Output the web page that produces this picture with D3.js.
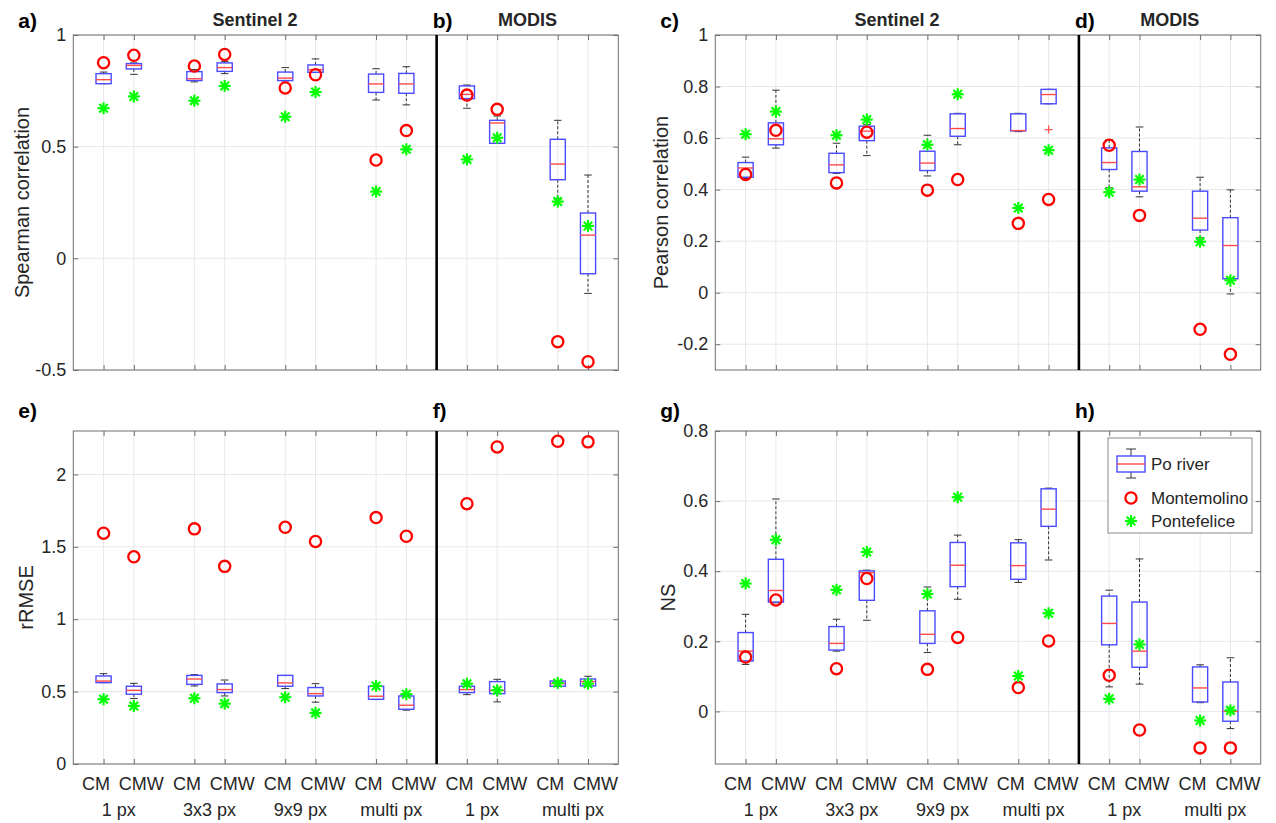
<!DOCTYPE html>
<html>
<head>
<meta charset="utf-8">
<script src="https://cdn.jsdelivr.net/npm/d3@7"></script>
<style>
  html, body { margin: 0; padding: 0; background: #fff; }
  svg { display: block; font-family: "Liberation Sans", Arial, Helvetica, sans-serif; }
</style>
</head>
<body>
<svg id="chart" width="1276" height="823"></svg>
<script>
// ---------------- DATA ----------------
const positions = [1, 2, 4, 5, 7, 8, 10, 11, 13, 14, 16, 17];
const methodLabels = ["CM", "CMW", "CM", "CMW", "CM", "CMW", "CM", "CMW", "CM", "CMW", "CM", "CMW"];
const groupLabels = ["1 px", "3x3 px", "9x9 px", "multi px", "1 px", "multi px"];
const groupCenters = [1.5, 4.5, 7.5, 10.5, 13.5, 16.5];
const sensorTitles = ["Sentinel 2", "MODIS"];
const separatorPos = 12;

// boxes: [lower whisker, q1, median, q3, upper whisker]
const spearmanBoxes = [
  [0.782, 0.782, 0.800, 0.827, 0.834],
  [0.824, 0.848, 0.864, 0.872, 0.875],
  [0.790, 0.796, 0.804, 0.836, 0.845],
  [0.827, 0.837, 0.854, 0.875, 0.882],
  [0.794, 0.796, 0.807, 0.834, 0.854],
  [0.832, 0.833, 0.845, 0.866, 0.893],
  [0.709, 0.743, 0.781, 0.825, 0.849],
  [0.687, 0.739, 0.781, 0.828, 0.858],
  [0.672, 0.715, 0.734, 0.772, 0.776],
  [0.515, 0.515, 0.606, 0.618, 0.637],
  [0.269, 0.352, 0.422, 0.533, 0.618],
  [-0.157, -0.069, 0.104, 0.203, 0.373]
];
const spearmanMontemolino = [0.876, 0.909, 0.861, 0.913, 0.763, 0.822, 0.440, 0.572, 0.731, 0.667, -0.373, -0.463];
const spearmanPontefelice = [0.672, 0.725, 0.706, 0.772, 0.634, 0.745, 0.299, 0.488, 0.443, 0.540, 0.254, 0.145];
const spearmanOutliers = [[], [], [], [], [], [], [], [], [], [], [], []];
const spearmanTicks = [-0.5, 0, 0.5, 1];

const pearsonBoxes = [
  [0.443, 0.448, 0.484, 0.505, 0.526],
  [0.561, 0.574, 0.597, 0.659, 0.786],
  [0.463, 0.466, 0.496, 0.541, 0.580],
  [0.532, 0.590, 0.627, 0.646, 0.652],
  [0.453, 0.474, 0.503, 0.549, 0.611],
  [0.574, 0.607, 0.637, 0.694, 0.696],
  [0.625, 0.628, 0.629, 0.694, 0.696],
  [0.733, 0.733, 0.769, 0.789, 0.789],
  [0.407, 0.478, 0.505, 0.562, 0.594],
  [0.372, 0.394, 0.411, 0.548, 0.643],
  [0.213, 0.243, 0.289, 0.394, 0.448],
  [-0.005, 0.054, 0.183, 0.291, 0.399]
];
const pearsonMontemolino = [0.459, 0.630, 0.426, 0.623, 0.398, 0.439, 0.269, 0.362, 0.572, 0.300, -0.142, -0.239];
const pearsonPontefelice = [0.615, 0.703, 0.611, 0.672, 0.574, 0.770, 0.329, 0.553, 0.390, 0.439, 0.198, 0.048];
const pearsonOutliers = [[], [], [], [], [], [], [], [0.633], [], [], [], []];
const pearsonTicks = [-0.2, 0, 0.2, 0.4, 0.6, 0.8, 1];

const rrmseBoxes = [
  [0.562, 0.562, 0.573, 0.608, 0.624],
  [0.452, 0.482, 0.509, 0.537, 0.557],
  [0.539, 0.550, 0.587, 0.612, 0.617],
  [0.470, 0.493, 0.514, 0.553, 0.580],
  [0.521, 0.537, 0.560, 0.612, 0.612],
  [0.427, 0.470, 0.486, 0.528, 0.555],
  [0.445, 0.447, 0.468, 0.537, 0.540],
  [0.372, 0.378, 0.406, 0.470, 0.475],
  [0.479, 0.493, 0.514, 0.537, 0.555],
  [0.429, 0.486, 0.509, 0.569, 0.585],
  [0.535, 0.537, 0.555, 0.573, 0.575],
  [0.537, 0.539, 0.569, 0.587, 0.606]
];
const rrmseMontemolino = [1.594, 1.431, 1.624, 1.365, 1.635, 1.537, 1.702, 1.573, 1.798, 2.190, 2.229, 2.225];
const rrmsePontefelice = [0.447, 0.401, 0.454, 0.417, 0.461, 0.353, 0.539, 0.482, 0.555, 0.509, 0.560, 0.555];
const rrmseOutliers = [[], [], [], [], [], [], [], [], [], [], [], []];
const rrmseTicks = [0, 0.5, 1, 1.5, 2];

const nsBoxes = [
  [0.134, 0.144, 0.172, 0.225, 0.277],
  [0.310, 0.312, 0.345, 0.434, 0.606],
  [0.172, 0.175, 0.194, 0.242, 0.263],
  [0.260, 0.317, 0.396, 0.401, 0.403],
  [0.168, 0.194, 0.220, 0.287, 0.355],
  [0.320, 0.356, 0.417, 0.482, 0.503],
  [0.368, 0.377, 0.416, 0.481, 0.490],
  [0.432, 0.528, 0.577, 0.635, 0.637],
  [0.070, 0.190, 0.251, 0.329, 0.346],
  [0.078, 0.126, 0.172, 0.312, 0.435],
  [0.025, 0.027, 0.067, 0.127, 0.133],
  [-0.049, -0.028, 0.000, 0.084, 0.153]
];
const nsMontemolino = [0.155, 0.318, 0.122, 0.379, 0.120, 0.211, 0.068, 0.201, 0.103, -0.053, -0.104, -0.104];
const nsPontefelice = [0.365, 0.490, 0.347, 0.455, 0.335, 0.611, 0.101, 0.280, 0.036, 0.191, -0.026, 0.003];
const nsOutliers = [[], [], [], [], [], [], [], [], [], [], [], []];
const nsTicks = [0, 0.2, 0.4, 0.6, 0.8];

const legendLabels = ["Po river", "Montemolino", "Pontefelice"];

// ---------------- LAYOUT ----------------
const panels = [
  { boxes: spearmanBoxes, mont: spearmanMontemolino, pont: spearmanPontefelice, outl: spearmanOutliers,
    ticks: spearmanTicks, domain: [-0.5, 1], ylabel: "Spearman correlation", letters: ["a)", "b)"],
    left: 73.3, right: 618.3, top: 35, bottom: 370, xlabels: false, titles: true, ylabX: 29, letterY: 28 },
  { boxes: pearsonBoxes, mont: pearsonMontemolino, pont: pearsonPontefelice, outl: pearsonOutliers,
    ticks: pearsonTicks, domain: [-0.3, 1], ylabel: "Pearson correlation", letters: ["c)", "d)"],
    left: 715.3, right: 1260.7, top: 35, bottom: 370, xlabels: false, titles: true, ylabX: 668, letterY: 28 },
  { boxes: rrmseBoxes, mont: rrmseMontemolino, pont: rrmsePontefelice, outl: rrmseOutliers,
    ticks: rrmseTicks, domain: [0, 2.3], ylabel: "rRMSE", letters: ["e)", "f)"],
    left: 73.3, right: 618.3, top: 431, bottom: 764, xlabels: true, titles: false, ylabX: 33, letterY: 418 },
  { boxes: nsBoxes, mont: nsMontemolino, pont: nsPontefelice, outl: nsOutliers,
    ticks: nsTicks, domain: [-0.15, 0.8], ylabel: "NS", letters: ["g)", "h)"],
    left: 715.3, right: 1260.7, top: 431, bottom: 764, xlabels: true, titles: false, ylabX: 675, letterY: 418, legend: true }
];

const svg = d3.select("#chart");
const TXT = "#262626";
const AX = "#6e6e6e";
const GRID = "#e8e8e8";
const fmt = d => String(+d.toFixed(2));

function star(g, cx, cy, r) {
  const s = g.append("g").attr("transform", `translate(${cx},${cy})`)
    .attr("stroke", "#00ff00").attr("stroke-width", 2.2).attr("stroke-linecap", "butt");
  [0, 45, 90, 135].forEach(a => {
    const rad = a * Math.PI / 180;
    s.append("line")
      .attr("x1", -r * Math.cos(rad)).attr("y1", -r * Math.sin(rad))
      .attr("x2", r * Math.cos(rad)).attr("y2", r * Math.sin(rad));
  });
}

panels.forEach(p => {
  const x = d3.scaleLinear().domain([0, 18]).range([p.left, p.right]);
  const y = d3.scaleLinear().domain(p.domain).range([p.bottom, p.top]);
  const g = svg.append("g");

  // grid
  g.append("g").selectAll("line").data(p.ticks).join("line")
    .attr("x1", p.left).attr("x2", p.right)
    .attr("y1", d => y(d)).attr("y2", d => y(d))
    .attr("stroke", GRID).attr("stroke-width", 1);
  g.append("g").selectAll("line").data(positions).join("line")
    .attr("x1", d => x(d)).attr("x2", d => x(d))
    .attr("y1", p.top).attr("y2", p.bottom)
    .attr("stroke", GRID).attr("stroke-width", 1);

  // axes (inward ticks, MATLAB style)
  const yl = g.append("g").attr("transform", `translate(${p.left},0)`)
    .call(d3.axisLeft(y).tickValues(p.ticks).tickFormat(fmt).tickSize(-5).tickSizeOuter(0).tickPadding(7));
  const yr = g.append("g").attr("transform", `translate(${p.right},0)`)
    .call(d3.axisRight(y).tickValues(p.ticks).tickFormat("").tickSize(-5).tickSizeOuter(0));
  const xb = g.append("g").attr("transform", `translate(0,${p.bottom})`)
    .call(d3.axisBottom(x).tickValues(positions)
      .tickFormat((d, i) => p.xlabels ? methodLabels[i] : "")
      .tickSize(-5).tickSizeOuter(0).tickPadding(13));
  const xt = g.append("g").attr("transform", `translate(0,${p.top})`)
    .call(d3.axisTop(x).tickValues(positions).tickFormat("").tickSize(-5).tickSizeOuter(0));
  [yl, yr, xb, xt].forEach(a => {
    a.select(".domain").remove();
    a.selectAll(".tick line").attr("stroke", AX);
    a.selectAll(".tick text").attr("fill", TXT).attr("font-size", 18)
      .attr("font-family", "'Liberation Sans', Arial, sans-serif");
  });
  // MATLAB offsets the CM / CMW labels apart from each other
  xb.selectAll(".tick text").attr("dx", (d, i) => (i % 2 === 0 ? -8 : 7));

  // frame
  g.append("rect").attr("x", p.left).attr("y", p.top)
    .attr("width", p.right - p.left).attr("height", p.bottom - p.top)
    .attr("fill", "none").attr("stroke", AX).attr("stroke-width", 1);

  // group labels
  if (p.xlabels) {
    g.append("g").selectAll("text").data(groupLabels).join("text")
      .attr("x", (d, i) => x(groupCenters[i])).attr("y", p.bottom + 52)
      .attr("text-anchor", "middle").attr("font-size", 18).attr("fill", TXT)
      .text(d => d);
  }

  // boxplots
  const bw = x(0.25) - x(0);
  const cw = x(0.125) - x(0);
  const bg = g.append("g");
  p.boxes.forEach((b, i) => {
    const cx = x(positions[i]);
    const [lo, q1, med, q3, hi] = b;
    const w = bg.append("g");
    w.append("line").attr("x1", cx).attr("x2", cx).attr("y1", y(q3)).attr("y2", y(hi))
      .attr("stroke", "#333").attr("stroke-width", 1).attr("stroke-dasharray", "3,2");
    w.append("line").attr("x1", cx).attr("x2", cx).attr("y1", y(q1)).attr("y2", y(lo))
      .attr("stroke", "#333").attr("stroke-width", 1).attr("stroke-dasharray", "3,2");
    [lo, hi].forEach(v => {
      w.append("line").attr("x1", cx - cw).attr("x2", cx + cw).attr("y1", y(v)).attr("y2", y(v))
        .attr("stroke", "#333").attr("stroke-width", 1);
    });
    w.append("rect").attr("x", cx - bw).attr("y", y(q3))
      .attr("width", 2 * bw).attr("height", Math.max(0.5, y(q1) - y(q3)))
      .attr("fill", "none").attr("stroke", "#4a4aff").attr("stroke-width", 1.4);
    w.append("line").attr("x1", cx - bw).attr("x2", cx + bw).attr("y1", y(med)).attr("y2", y(med))
      .attr("stroke", "#ff4a4a").attr("stroke-width", 1.4);
    p.outl[i].forEach(v => {
      w.append("path").attr("d", `M${cx - 4},${y(v)}H${cx + 4}M${cx},${y(v) - 4}V${y(v) + 4}`)
        .attr("stroke", "#ff5050").attr("stroke-width", 1.2);
    });
  });

  // markers
  const mg = g.append("g");
  mg.selectAll("circle").data(p.mont).join("circle")
    .attr("cx", (d, i) => x(positions[i])).attr("cy", d => y(d)).attr("r", 5.6)
    .attr("fill", "none").attr("stroke", "#ff0000").attr("stroke-width", 2.3);
  p.pont.forEach((v, i) => star(mg, x(positions[i]), y(v), 6));

  // separator
  g.append("line").attr("x1", x(separatorPos)).attr("x2", x(separatorPos))
    .attr("y1", p.top).attr("y2", p.bottom).attr("stroke", "#000").attr("stroke-width", 2.6);

  // y label
  g.append("text").attr("transform", `translate(${p.ylabX},${(p.top + p.bottom) / 2}) rotate(-90)`)
    .attr("text-anchor", "middle").attr("font-size", 20).attr("fill", TXT).text(p.ylabel);

  // titles
  if (p.titles) {
    g.append("text").attr("x", (x(0) + x(separatorPos)) / 2).attr("y", 26)
      .attr("text-anchor", "middle").attr("font-size", 18).attr("font-weight", "bold").attr("fill", TXT)
      .text(sensorTitles[0]);
    g.append("text").attr("x", (x(separatorPos) + x(18)) / 2).attr("y", 26)
      .attr("text-anchor", "middle").attr("font-size", 18).attr("font-weight", "bold").attr("fill", TXT)
      .text(sensorTitles[1]);
  }
  // panel letters
  g.append("text").attr("x", p.left - 55).attr("y", p.letterY)
    .attr("font-size", 21).attr("font-weight", "bold").attr("fill", "#000").text(p.letters[0]);
  g.append("text").attr("x", x(separatorPos) - 4).attr("y", p.letterY)
    .attr("font-size", 21).attr("font-weight", "bold").attr("fill", "#000").text(p.letters[1]);

  // legend
  if (p.legend) {
    const L = g.append("g").attr("transform", "translate(1108,438)");
    L.append("rect").attr("width", 144).attr("height", 95).attr("fill", "#fff")
      .attr("stroke", "#8a8a8a").attr("stroke-width", 1);
    const bx = 23;
    L.append("line").attr("x1", bx).attr("x2", bx).attr("y1", 11).attr("y2", 40).attr("stroke", "#333");
    L.append("line").attr("x1", bx - 5).attr("x2", bx + 5).attr("y1", 11).attr("y2", 11).attr("stroke", "#333");
    L.append("line").attr("x1", bx - 5).attr("x2", bx + 5).attr("y1", 40).attr("y2", 40).attr("stroke", "#333");
    L.append("rect").attr("x", bx - 14).attr("y", 18).attr("width", 28).attr("height", 16)
      .attr("fill", "#fff").attr("stroke", "#4a4aff").attr("stroke-width", 1.4);
    L.append("line").attr("x1", bx - 14).attr("x2", bx + 14).attr("y1", 26).attr("y2", 26)
      .attr("stroke", "#ff4a4a").attr("stroke-width", 1.4);
    L.append("circle").attr("cx", bx).attr("cy", 60).attr("r", 5.6)
      .attr("fill", "none").attr("stroke", "#ff0000").attr("stroke-width", 2.3);
    star(L, bx, 83, 6);
    L.selectAll("text.leg").data(legendLabels).join("text").attr("class", "leg")
      .attr("x", 43).attr("y", (d, i) => [32, 66, 89][i])
      .attr("font-size", 17).attr("fill", TXT).text(d => d);
  }
});
</script>
</body>
</html>
